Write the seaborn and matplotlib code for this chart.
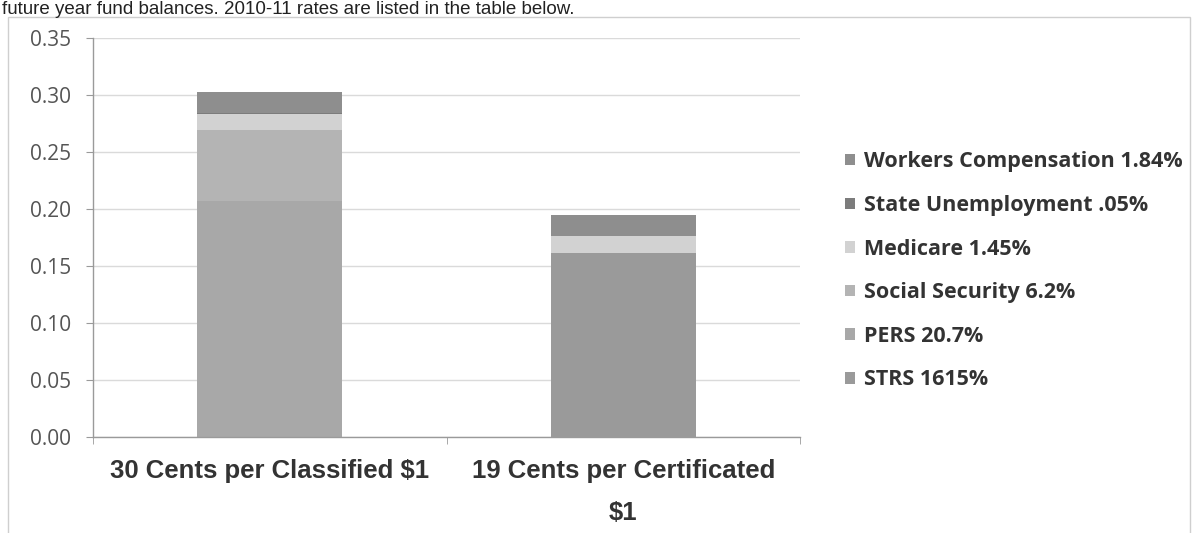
import matplotlib
matplotlib.use("Agg")
import matplotlib.pyplot as plt
import seaborn as sns
import numpy as np
from matplotlib.patches import Rectangle, Patch

categories = ["30 Cents per Classified $1", "19 Cents per Certificated\n$1"]
series_names = ["STRS 1615%", "PERS 20.7%", "Social Security 6.2%", "Medicare 1.45%",
                "State Unemployment .05%", "Workers Compensation 1.84%"]
strs = [0.0, 0.1615]
pers = [0.207, 0.0]
social_security = [0.062, 0.0]
medicare = [0.0145, 0.0145]
state_unemployment = [0.0005, 0.0005]
workers_comp = [0.0184, 0.0184]
series_values = [strs, pers, social_security, medicare, state_unemployment, workers_comp]
colors = ["#9a9a9a", "#a8a8a8", "#b4b4b4", "#d2d2d2", "#7c7c7c", "#8e8e8e"]
yticks = [0.00, 0.05, 0.10, 0.15, 0.20, 0.25, 0.30, 0.35]

sns.set_style("white")
plt.rcParams['font.family'] = ['DejaVu Sans']

fig = plt.figure(figsize=(11.95, 5.33), dpi=100)
ax = fig.add_axes([93/1195, 1-437/533, (800-93)/1195, (437-38)/533])

bottom = np.zeros(len(categories))
for name, vals, col in zip(series_names, series_values, colors):
    sns.barplot(x=categories, y=vals, bottom=bottom, color=col, width=0.41,
                ax=ax, linewidth=0, saturation=1)
    bottom = bottom + np.array(vals)
if ax.get_legend() is not None:
    ax.get_legend().remove()

ax.set_xlim(-0.5, 1.5)
ax.set_ylim(0, 0.35)
ax.set_yticks(yticks)
ax.set_yticklabels([f"{v:.2f}" for v in yticks], fontsize=15, color="#555555",
                   family=['Open Sans', 'DejaVu Sans'])
ax.yaxis.grid(True, color="#dadada", linewidth=1)
ax.set_axisbelow(True)
for s in ["top", "right"]:
    ax.spines[s].set_visible(False)
for s in ["left", "bottom"]:
    ax.spines[s].set_color("#9a9a9a")
    ax.spines[s].set_linewidth(1)
ax.tick_params(axis="y", length=5, color="#9a9a9a", pad=11, left=True)
ax.set_xticks([0, 1])
ax.set_xticklabels(categories, fontsize=18.5, fontweight="bold", color="#333333",
                   family=['Liberation Sans', 'DejaVu Sans'])
for t in ax.get_xticklabels():
    t.set_linespacing(1.95)
ax.tick_params(axis="x", length=0, pad=16)
ax.set_xticks([-0.5, 0.5, 1.5], minor=True)
ax.tick_params(axis="x", which="minor", length=5, color="#9a9a9a", bottom=True)
ax.set_xlabel("")
ax.set_ylabel("")

handles = [Patch(facecolor=c, edgecolor="none") for c in colors][::-1]
labels = series_names[::-1]
leg = fig.legend(handles, labels, loc="upper left",
                 bbox_to_anchor=(826/1195, 1-132/533), frameon=False,
                 prop={"size": 15.5, "weight": "bold", "family": ['Open Sans', 'DejaVu Sans']},
                 handlelength=0.45, handleheight=0.45, handletextpad=0.4,
                 labelspacing=1.05)
for t in leg.get_texts():
    t.set_color("#333333")

fig.patches.append(Rectangle((8/1195, -0.02), (1190-8)/1195, 1-17/533+0.02,
                             transform=fig.transFigure, fill=False,
                             edgecolor="#cfcfcf", linewidth=1))
fig.text(2/1195, 1-13.5/533, "future year fund balances. 2010-11 rates are listed in the table below.",
         fontsize=13.5, color="#222222", va="baseline", ha="left",
         family=['Liberation Sans', 'DejaVu Sans'])

fig.savefig("out.png", dpi=100)
